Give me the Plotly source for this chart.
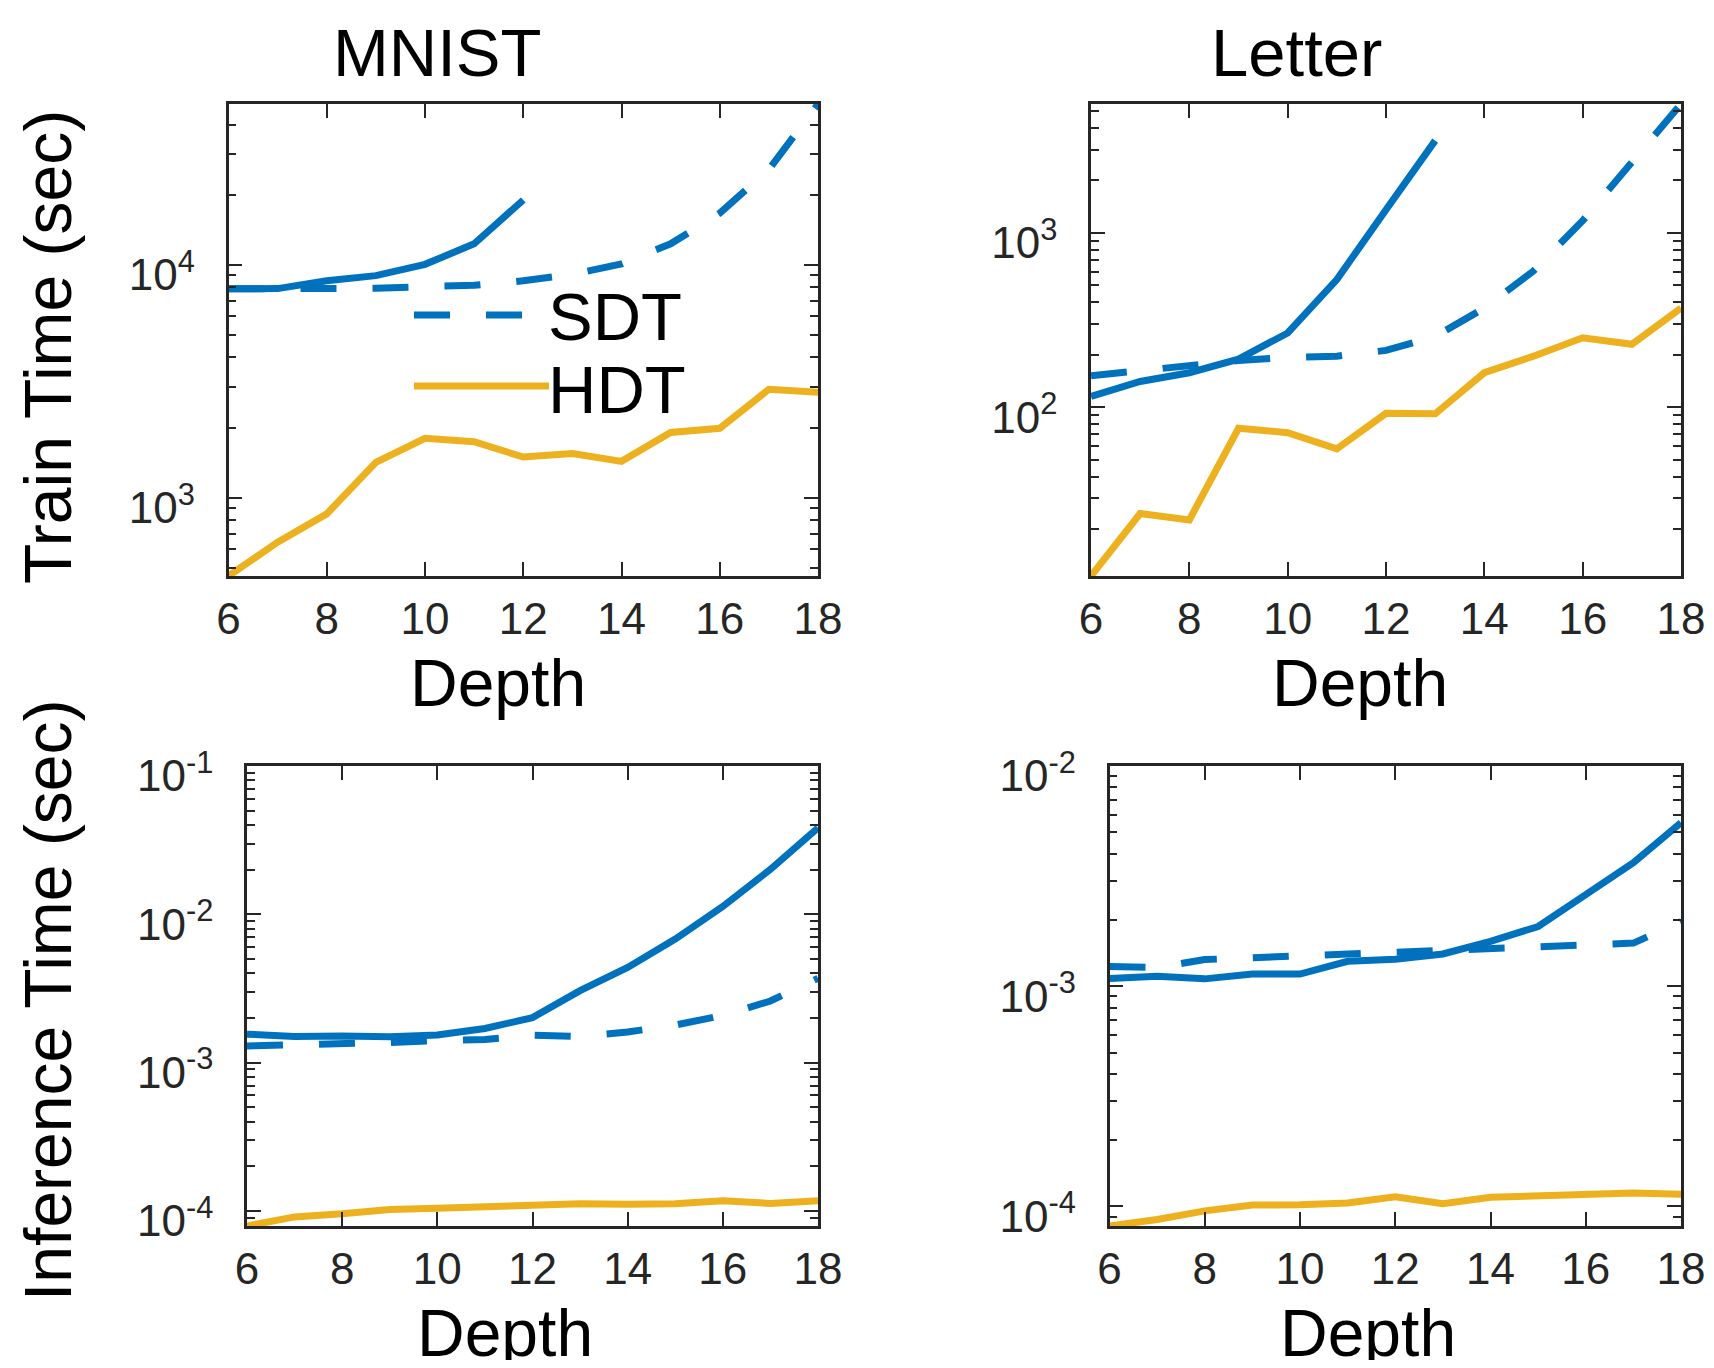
import math
import plotly.graph_objects as go

# ---------------- data ----------------
depth = [6, 7, 8, 9, 10, 11, 12, 13, 14, 15, 16, 17, 18]

mnist_train_sdt_solid = [7890, 7900, 8530, 8980, 10040, 12300, 18970]          # depths 6..12
mnist_train_sdt_dash = [7890, 7900, 7820, 7920, 8060, 8160, 8530, 9090, 10090, 12300, 16650, 25650, 49000]
mnist_train_hdt = [461, 644, 852, 1419, 1799, 1738, 1494, 1546, 1432, 1905, 1986, 2918, 2833]

letter_train_sdt_solid = [115.5, 140.6, 157.8, 188.8, 266.7, 539.7, 1358, 3380]   # depths 6..13
letter_train_sdt_dash = [151.5, 162.4, 172, 185.4, 193, 196.3, 211.9, 254.7, 370.7, 605, 1175, 2563, 5480]
letter_train_hdt = [10.78, 24.6, 22.6, 75.8, 71.5, 57.8, 92.3, 91.7, 157.8, 196.3, 250.3, 229.7, 370.7]

mnist_inf_sdt_solid = [1.553e-3, 1.501e-3, 1.511e-3, 1.491e-3, 1.532e-3, 1.696e-3, 2.009e-3,
                       3.057e-3, 4.375e-3, 6.80e-3, 1.129e-2, 2.009e-2, 3.82e-2]
mnist_inf_sdt_dash = [1.294e-3, 1.311e-3, 1.356e-3, 1.365e-3, 1.403e-3, 1.432e-3, 1.532e-3,
                      1.501e-3, 1.606e-3, 1.790e-3, 2.080e-3, 2.60e-3, 3.70e-3]
mnist_inf_hdt = [7.9e-5, 9.10e-5, 9.54e-5, 1.02e-4, 1.041e-4, 1.070e-4, 1.107e-4,
                 1.115e-4, 1.107e-4, 1.115e-4, 1.169e-4, 1.122e-4, 1.169e-4]

letter_inf_sdt_solid = [1.085e-3, 1.110e-3, 1.080e-3, 1.136e-3, 1.136e-3, 1.297e-3, 1.327e-3,
                        1.401e-3, 1.600e-3, 1.867e-3, 2.605e-3, 3.635e-3, 5.53e-3]
letter_inf_sdt_dash = [1.228e-3, 1.217e-3, 1.321e-3, 1.345e-3, 1.382e-3, 1.395e-3, 1.414e-3,
                       1.460e-3, 1.487e-3, 1.507e-3, 1.542e-3, 1.570e-3, 1.965e-3]
letter_inf_hdt = [8.15e-5, 8.72e-5, 9.55e-5, 1.014e-4, 1.018e-4, 1.037e-4, 1.105e-4,
                  1.028e-4, 1.100e-4, 1.121e-4, 1.147e-4, 1.152e-4, 1.136e-4]

titles = ["MNIST", "Letter"]
x_label = "Depth"
y_labels = ["Train Time (sec)", "Inference Time (sec)"]
legend_names = ["SDT", "HDT"]
x_ticks = [6, 8, 10, 12, 14, 16, 18]

# ---------------- style ----------------
OFF = 8                      # page body margin
W, H = 1714 - 2 * OFF, 1368 - 2 * OFF
BLUE = "#0072BD"
YELLOW = "#EDB120"
AX = "#262626"
FONT = "Liberation Sans, Arial, Helvetica, sans-serif"
LW = 7
DASH = "36px,36px"


def px(x):
    return (x - OFF) / W


def py(y):
    return 1 - (y - OFF) / H


# panel boxes in page pixels: (left, right, top, bottom)
boxes = [
    (228.5, 818, 104, 576),
    (1091, 1681, 104, 576),
    (247, 818, 766, 1226),
    (1109.5, 1681, 766, 1226),
]

panels = [
    (mnist_train_sdt_solid, mnist_train_sdt_dash, mnist_train_hdt, "tight"),
    (letter_train_sdt_solid, letter_train_sdt_dash, letter_train_hdt, "tight"),
    (mnist_inf_sdt_solid, mnist_inf_sdt_dash, mnist_inf_hdt, "decade"),
    (letter_inf_sdt_solid, letter_inf_sdt_dash, letter_inf_hdt, "decade"),
]

fig = go.Figure()
layout = dict(
    width=W, height=H, margin=dict(l=0, r=0, t=0, b=0, autoexpand=False),
    paper_bgcolor="white", plot_bgcolor="white", showlegend=False,
    font=dict(family=FONT, color=AX),
)
annotations = []
shapes = []

for i, (solid, dash, hdt, mode) in enumerate(panels):
    n = i + 1
    xa = "x" if n == 1 else f"x{n}"
    ya = "y" if n == 1 else f"y{n}"
    fig.add_trace(go.Scatter(x=depth[:len(dash)], y=dash, mode="lines", name=legend_names[0],
                             line=dict(color=BLUE, width=LW, dash=DASH), xaxis=xa, yaxis=ya))
    fig.add_trace(go.Scatter(x=depth[:len(solid)], y=solid, mode="lines", name=legend_names[0] + " ",
                             line=dict(color=BLUE, width=LW), xaxis=xa, yaxis=ya))
    fig.add_trace(go.Scatter(x=depth[:len(hdt)], y=hdt, mode="lines", name=legend_names[1],
                             line=dict(color=YELLOW, width=LW), xaxis=xa, yaxis=ya))

    allv = solid + dash + hdt
    lo = math.log10(min(allv))
    hi = math.log10(max(allv))
    if mode == "decade":
        hi = math.ceil(hi - 1e-9)
    majors = [10.0 ** k for k in range(math.ceil(lo), math.floor(hi) + 1)]
    majtext = [f"10<sup>{k}</sup>" for k in range(math.ceil(lo), math.floor(hi) + 1)]
    minors = []
    for k in range(math.floor(lo), math.ceil(hi) + 1):
        for m in range(2, 10):
            v = m * 10.0 ** k
            if lo <= math.log10(v) <= hi:
                minors.append(v)

    l, r, t, b = boxes[i]
    layout["xaxis" if n == 1 else f"xaxis{n}"] = dict(
        domain=[px(l), px(r)], anchor=ya, range=[6, 18], automargin=False,
        tickmode="array", tickvals=x_ticks, ticks="inside", ticklen=14, tickwidth=2,
        tickcolor=AX, showline=True, linecolor=AX, linewidth=2.5, mirror="ticks",
        showgrid=False, zeroline=False, ticklabelstandoff=2,
        tickfont=dict(size=44, color=AX, family=FONT),
    )
    layout["yaxis" if n == 1 else f"yaxis{n}"] = dict(
        domain=[py(b), py(t)], anchor=xa, type="log", range=[lo, hi], automargin=False,
        tickmode="array", tickvals=majors, ticktext=majtext, ticks="inside", ticklen=14,
        tickwidth=2, tickcolor=AX, showline=True, linecolor=AX, linewidth=2.5,
        mirror="ticks", showgrid=False, zeroline=False, ticklabelstandoff=22,
        ticklabelshift=10,
        tickfont=dict(size=44, color=AX, family=FONT),
        minor=dict(tickmode="array", tickvals=minors, ticks="inside", ticklen=8,
                   tickwidth=2, tickcolor=AX, showgrid=False),
    )

# titles
for tx, txt in [(436.5, titles[0]), (1296.5, titles[1])]:
    annotations.append(dict(x=px(tx), y=py(52), xref="paper", yref="paper", text=txt,
                            showarrow=False, xanchor="center", yanchor="middle",
                            font=dict(size=67, color="black", family=FONT)))
# x labels
for tx, ty in [(497.5, 683), (1360, 683), (505.5, 1333), (1368, 1333)]:
    annotations.append(dict(x=px(tx), y=py(ty), xref="paper", yref="paper", text=x_label,
                            showarrow=False, xanchor="center", yanchor="middle",
                            font=dict(size=66, color="black", family=FONT)))
# y labels
for ty, txt in [(347, y_labels[0]), (1000, y_labels[1])]:
    annotations.append(dict(x=px(48), y=py(ty), xref="paper", yref="paper", text=txt,
                            showarrow=False, xanchor="center", yanchor="middle", textangle=-90,
                            font=dict(size=66, color="black", family=FONT)))

# legend (manual, inside MNIST train panel)
shapes.append(dict(type="line", xref="paper", yref="paper", x0=px(414), x1=px(523),
                   y0=py(315), y1=py(315), line=dict(color=BLUE, width=LW, dash=DASH)))
shapes.append(dict(type="line", xref="paper", yref="paper", x0=px(414), x1=px(549),
                   y0=py(386), y1=py(386), line=dict(color=YELLOW, width=LW)))
for ty, txt in [(317, legend_names[0]), (389, legend_names[1])]:
    annotations.append(dict(x=px(546), y=py(ty), xref="paper", yref="paper", text=txt,
                            showarrow=False, xanchor="left", yanchor="middle",
                            font=dict(size=67, color="black", family=FONT)))

layout["annotations"] = annotations
layout["shapes"] = shapes
fig.update_layout(**layout)
fig.write_html("out.html")
